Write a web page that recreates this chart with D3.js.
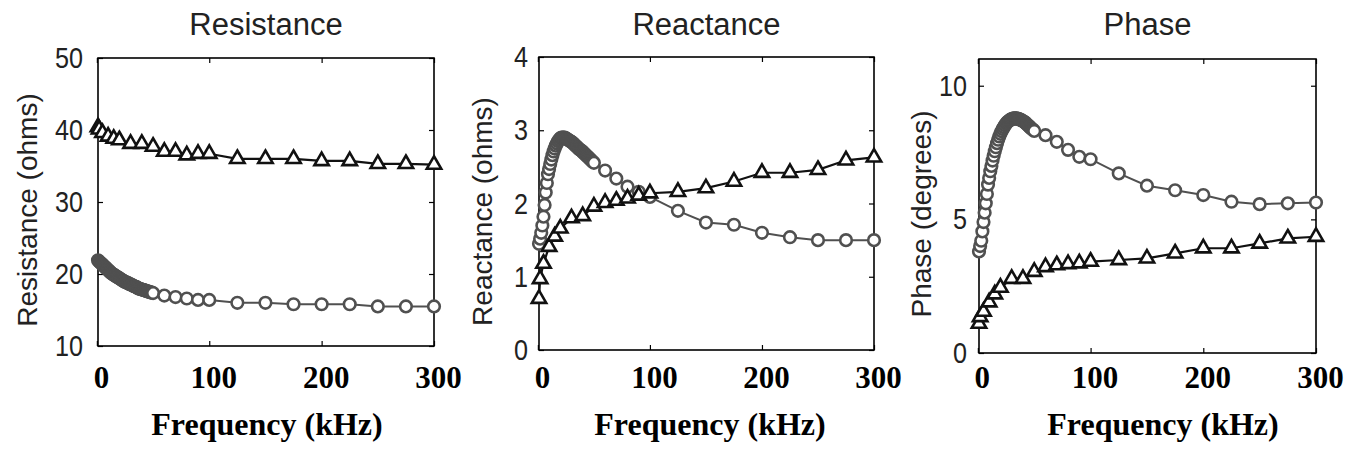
<!DOCTYPE html>
<html>
<head>
<meta charset="utf-8">
<script src="https://cdn.jsdelivr.net/npm/d3@7"></script>
<style>
    body { margin: 0; background: #fff; }
    svg { display: block; }
</style>
</head>
<body>
<svg id="chart" width="1351" height="451"></svg>
<script>
// frequencies (kHz) of the two measurement sets
const circleFreq = [1, 2, 3, 4, 5, 6, 7, 8, 9, 10, 11, 12, 13, 14, 15, 16, 17, 18, 19, 20, 21, 22, 23, 24, 25,
    26, 27, 28, 29, 30, 31, 32, 33, 34, 35, 36, 37, 38, 39, 40, 41, 42, 43, 44, 45, 46, 47, 48, 49, 50,
    60, 70, 80, 90, 100, 125, 150, 175, 200, 225, 250, 275, 300];
const triangleFreq = [1, 2, 5, 10, 15, 20, 30, 40, 50, 60, 70, 80, 90, 100, 125, 150, 175, 200, 225, 250, 275, 300];

const resistanceCircle = [21.9, 21.75, 21.6, 21.45, 21.3, 21.15, 21.0, 20.85, 20.7, 20.55, 20.4, 20.25, 20.1,
    20.0, 19.9, 19.8, 19.7, 19.6, 19.5, 19.4, 19.3, 19.2, 19.1, 19.0, 18.9, 18.85, 18.8, 18.7, 18.6, 18.55,
    18.5, 18.4, 18.3, 18.25, 18.2, 18.1, 18.0, 17.95, 17.9, 17.85, 17.8, 17.75, 17.7, 17.65, 17.6, 17.55,
    17.5, 17.45, 17.4, 17.35,
    17.0, 16.8, 16.6, 16.4, 16.4, 16.0, 16.0, 15.8, 15.8, 15.8, 15.5, 15.5, 15.5];
const resistanceTriangle = [40.4, 40.1, 39.6, 39.1, 38.8, 38.6, 38.1, 38.1, 37.7, 37.0, 37.0, 36.5, 36.7, 36.7,
    36.0, 36.0, 36.0, 35.7, 35.7, 35.3, 35.3, 35.2];

const reactanceCircle = [1.45, 1.52, 1.6, 1.7, 1.82, 1.98, 2.15, 2.28, 2.4, 2.47, 2.54, 2.6, 2.66, 2.71, 2.75,
    2.79, 2.82, 2.85, 2.87, 2.89, 2.9, 2.9, 2.9, 2.9, 2.89, 2.88, 2.87, 2.86, 2.85, 2.84, 2.83, 2.815, 2.8,
    2.785, 2.77, 2.755, 2.74, 2.73, 2.72, 2.705, 2.69, 2.675, 2.66, 2.645, 2.63, 2.615, 2.6, 2.585, 2.57, 2.555,
    2.45, 2.34, 2.23, 2.16, 2.09, 1.9, 1.74, 1.71, 1.6, 1.54, 1.5, 1.5, 1.5];
const reactanceTriangle = [0.7, 0.97, 1.18, 1.41, 1.55, 1.66, 1.8, 1.83, 1.96, 2.01, 2.04, 2.07, 2.11, 2.14,
    2.16, 2.21, 2.3, 2.42, 2.42, 2.46, 2.59, 2.63];

const phaseCircle = [3.8, 4.0, 4.2, 4.55, 4.9, 5.25, 5.6, 5.95, 6.3, 6.55, 6.8, 7.0, 7.2, 7.38, 7.55, 7.7, 7.85,
    7.98, 8.1, 8.2, 8.3, 8.38, 8.45, 8.52, 8.58, 8.63, 8.67, 8.7, 8.73, 8.75, 8.77, 8.78, 8.78, 8.78, 8.77,
    8.76, 8.74, 8.72, 8.7, 8.68, 8.65, 8.62, 8.58, 8.54, 8.5, 8.46, 8.42, 8.38, 8.35, 8.31,
    8.15, 7.9, 7.6, 7.34, 7.25, 6.72, 6.26, 6.09, 5.91, 5.66, 5.57, 5.6, 5.63];
const phaseTriangle = [1.1, 1.35, 1.55, 1.9, 2.2, 2.45, 2.78, 2.78, 3.04, 3.22, 3.29, 3.33, 3.36, 3.42,
    3.48, 3.54, 3.73, 3.92, 3.92, 4.1, 4.29, 4.35];

const xTicks = [0, 100, 200, 300];
const resistanceTicks = [10, 20, 30, 40, 50];
const reactanceTicks = [0, 1, 2, 3, 4];
const phaseTicks = [0, 5, 10];

const titles = ['Resistance', 'Reactance', 'Phase'];
const yLabels = ['Resistance (ohms)', 'Reactance (ohms)', 'Phase (degrees)'];
const xLabel = 'Frequency (kHz)';

const SANS = 'Arial, "Liberation Sans", sans-serif';
const SERIF = '"Times New Roman", "Liberation Serif", serif';

const CIRCLE_COLOR = '#505050';
const TRIANGLE_COLOR = '#111';

const panels = [
    {
        box: { left: 98, right: 434, top: 58, bottom: 346 },
        yDomain: [10, 50], yTicks: resistanceTicks,
        circles: resistanceCircle, triangles: resistanceTriangle,
        yPad: 15, yLabelX: 27, xLabelX: 267,
    },
    {
        box: { left: 539, right: 874, top: 57, bottom: 350 },
        yDomain: [0, 4], yTicks: reactanceTicks,
        circles: reactanceCircle, triangles: reactanceTriangle,
        yPad: 11, yLabelX: 482, xLabelX: 710,
    },
    {
        box: { left: 979, right: 1316, top: 59, bottom: 353 },
        yDomain: [0, 11], yTicks: phaseTicks,
        circles: phaseCircle, triangles: phaseTriangle,
        yPad: 12, yLabelX: 921, xLabelX: 1163,
    },
];

const svg = d3.select('#chart');
svg.append('rect').attr('width', 1351).attr('height', 451).attr('fill', '#fff');

panels.forEach(function (p, i) {
    drawPanel(p, titles[i], yLabels[i]);
});

function drawPanel(p, title, yLabel) {
    const b = p.box;
    const x = d3.scaleLinear().domain([1, 300]).range([b.left, b.right]);
    const y = d3.scaleLinear().domain(p.yDomain).range([b.bottom, b.top]);
    const g = svg.append('g');

    // ticks point inward on all four sides
    const bottomAxis = g.append('g')
        .attr('transform', 'translate(0,' + b.bottom + ')')
        .call(d3.axisBottom(x).tickValues(xTicks).tickSizeInner(-5).tickSizeOuter(0)
            .tickPadding(388 - b.bottom - 22));
    g.append('g')
        .attr('transform', 'translate(0,' + b.top + ')')
        .call(d3.axisTop(x).tickValues(xTicks).tickSizeInner(-5).tickSizeOuter(0).tickFormat(''));
    const leftAxis = g.append('g')
        .attr('transform', 'translate(' + b.left + ',0)')
        .call(d3.axisLeft(y).tickValues(p.yTicks).tickFormat(d3.format('d'))
            .tickSizeInner(-5).tickSizeOuter(0).tickPadding(p.yPad));
    g.append('g')
        .attr('transform', 'translate(' + b.right + ',0)')
        .call(d3.axisRight(y).tickValues(p.yTicks).tickSizeInner(-5).tickSizeOuter(0).tickFormat(''));

    g.selectAll('.domain').remove();
    g.selectAll('.tick line').attr('stroke', '#000').attr('stroke-width', 1.2);

    bottomAxis.selectAll('text')
        .attr('dx', 4)
        .style('font-family', SERIF)
        .style('font-weight', 'bold')
        .style('font-size', '31px')
        .attr('fill', '#000');
    // the y tick digits are tall and narrow in the original
    leftAxis.selectAll('text')
        .attr('textLength', (d) => String(d).length * 14)
        .attr('lengthAdjust', 'spacingAndGlyphs')
        .style('font-family', SANS)
        .style('font-size', '30px')
        .attr('fill', '#222');

    g.append('rect')
        .attr('x', b.left)
        .attr('y', b.top)
        .attr('width', b.right - b.left)
        .attr('height', b.bottom - b.top)
        .attr('fill', 'none')
        .attr('stroke', '#000')
        .attr('stroke-width', 1.6);

    const plot = g.append('g');
    const circleData = circleFreq.map((f, k) => ({ f: f, v: p.circles[k] }));
    const triangleData = triangleFreq.map((f, k) => ({ f: f, v: p.triangles[k] }));
    const line = d3.line().x((d) => x(d.f)).y((d) => y(d.v));

    plot.append('path')
        .datum(circleData)
        .attr('d', line)
        .attr('fill', 'none')
        .attr('stroke', CIRCLE_COLOR)
        .attr('stroke-width', 2);
    plot.selectAll('circle')
        .data(circleData)
        .enter()
        .append('circle')
        .attr('cx', (d) => x(d.f))
        .attr('cy', (d) => y(d.v))
        .attr('r', 5.8)
        .attr('fill', '#fff')
        .attr('stroke', CIRCLE_COLOR)
        .attr('stroke-width', 2.6);

    plot.append('path')
        .datum(triangleData)
        .attr('d', line)
        .attr('fill', 'none')
        .attr('stroke', TRIANGLE_COLOR)
        .attr('stroke-width', 2.2);
    plot.selectAll('.tri')
        .data(triangleData)
        .enter()
        .append('path')
        .attr('class', 'tri')
        .attr('transform', (d) => 'translate(' + x(d.f) + ',' + y(d.v) + ')')
        .attr('d', d3.symbol(d3.symbolTriangle, 90))
        .attr('fill', '#fff')
        .attr('stroke', TRIANGLE_COLOR)
        .attr('stroke-width', 2.6);

    g.append('text')
        .attr('x', (b.left + b.right) / 2)
        .attr('y', 35)
        .attr('text-anchor', 'middle')
        .style('font-family', SANS)
        .style('font-size', '31px')
        .attr('fill', '#222')
        .text(title);

    g.append('text')
        .attr('transform', 'translate(' + p.yLabelX + ',' + ((b.top + b.bottom) / 2 + 8) + ') rotate(-90)')
        .attr('text-anchor', 'middle')
        .attr('dy', '0.35em')
        .style('font-family', SANS)
        .style('font-size', '28px')
        .attr('fill', '#222')
        .text(yLabel);

    g.append('text')
        .attr('x', p.xLabelX)
        .attr('y', 435)
        .attr('text-anchor', 'middle')
        .style('font-family', SERIF)
        .style('font-weight', 'bold')
        .style('font-size', '32px')
        .attr('fill', '#000')
        .text(xLabel);
}
</script>
</body>
</html>
